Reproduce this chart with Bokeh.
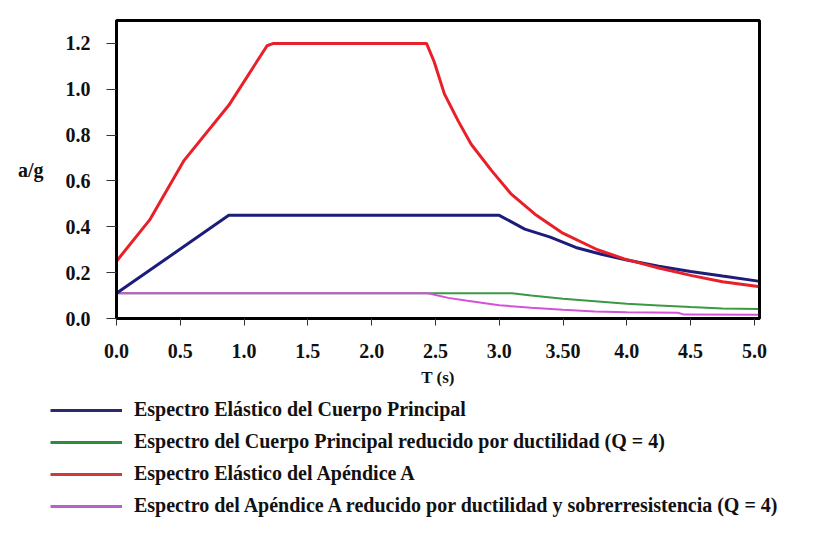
from bokeh.plotting import figure
from bokeh.layouts import column
from bokeh.models import FixedTicker, Legend, LegendItem, Range1d
from bokeh.embed import file_html
from bokeh.resources import INLINE

# ---- data ----
x_ticks = [0.0, 0.5, 1.0, 1.5, 2.0, 2.5, 3.0, 3.5, 4.0, 4.5, 5.0]
x_tick_labels = ["0.0", "0.5", "1.0", "1.5", "2.0", "2.5", "3.0", "3.50", "4.0", "4.5", "5.0"]
y_ticks = [0.0, 0.2, 0.4, 0.6, 0.8, 1.0, 1.2]
y_tick_labels = ["0.0", "0.2", "0.4", "0.6", "0.8", "1.0", "1.2"]

T_blue = [0.0, 0.88, 3.0, 3.2, 3.4, 3.6, 3.8, 4.0, 4.25, 4.5, 4.75, 5.03]
a_blue = [0.11, 0.45, 0.45, 0.39, 0.355, 0.31, 0.28, 0.255, 0.228, 0.205, 0.185, 0.163]

T_green = [0.0, 3.1, 3.25, 3.5, 3.75, 4.0, 4.25, 4.5, 4.75, 5.03]
a_green = [0.11, 0.11, 0.1, 0.086, 0.075, 0.064, 0.057, 0.05, 0.044, 0.041]

T_red = [0.0, 0.26, 0.53, 0.88, 1.18, 1.23, 2.43, 2.49, 2.57, 2.68, 2.78, 2.94,
         3.09, 3.28, 3.49, 3.77, 3.98, 4.25, 4.51, 4.75, 5.03]
a_red = [0.25, 0.43, 0.69, 0.93, 1.19, 1.2, 1.2, 1.12, 0.98, 0.86, 0.76, 0.645,
         0.545, 0.455, 0.375, 0.3, 0.26, 0.22, 0.187, 0.16, 0.14]

T_pink = [0.0, 2.44, 2.6, 2.75, 3.0, 3.25, 3.5, 3.75, 4.0, 4.4, 4.45, 5.03]
a_pink = [0.11, 0.11, 0.09, 0.077, 0.058, 0.047, 0.038, 0.031, 0.027, 0.025, 0.017, 0.016]

labels = [
    "Espectro Elástico del Cuerpo Principal",
    "Espectro del Cuerpo Principal reducido por ductilidad (Q = 4)",
    "Espectro Elástico del Apéndice A",
    "Espectro del Apéndice A reducido por ductilidad y sobrerresistencia (Q = 4)",
]

C_BLUE, C_GREEN, C_RED, C_PINK = "#1c1c7a", "#3a9a44", "#e8202a", "#d452d8"
L_BLUE, L_GREEN, L_RED, L_PINK = "#2a2a6e", "#2e8b3c", "#cc3a3a", "#b860cc"
FONT = "Liberation Serif"
TXT = "#111111"

W = 798
H_MAIN = 390
H_LEG = 127

p = figure(width=W, height=H_MAIN, output_backend="svg", toolbar_location=None,
           x_range=Range1d(0, 5.04), y_range=Range1d(0, 1.30),
           min_border_left=116, min_border_right=39, min_border_top=20,
           min_border_bottom=H_MAIN - 318)
p.background_fill_color = "white"
p.border_fill_color = "white"
p.outline_line_color = "black"
p.outline_line_width = 3
p.xgrid.visible = False
p.ygrid.visible = False

for ax in (p.xaxis[0], p.yaxis[0]):
    ax.axis_line_color = "black"
    ax.axis_line_width = 3
    ax.major_tick_line_color = "#333333"
    ax.major_tick_line_width = 1
    ax.major_tick_in = 0
    ax.minor_tick_line_color = None
    ax.major_label_text_font = FONT
    ax.major_label_text_font_style = "bold"
    ax.major_label_text_font_size = "20px"
    ax.major_label_text_color = TXT
    ax.axis_label_text_font = FONT
    ax.axis_label_text_font_style = "bold"
    ax.axis_label_text_color = TXT

p.xaxis.ticker = FixedTicker(ticks=x_ticks)
p.xaxis.major_label_overrides = {t: s for t, s in zip(x_ticks, x_tick_labels)}
p.xaxis.major_tick_out = 7
p.xaxis.major_label_standoff = 18
p.xaxis.axis_label = "T (s)"
p.xaxis.axis_label_text_font_size = "17px"
p.xaxis.axis_label_standoff = 7

p.yaxis.ticker = FixedTicker(ticks=y_ticks)
p.yaxis.major_label_overrides = {t: s for t, s in zip(y_ticks, y_tick_labels)}
p.yaxis.major_tick_out = 10
p.yaxis.major_label_standoff = 16
p.yaxis.axis_label = "a/g"
p.yaxis.axis_label_text_font_size = "20px"
p.yaxis.axis_label_standoff = 19
if "axis_label_orientation" in p.yaxis[0].properties():
    p.yaxis.axis_label_orientation = "horizontal"

p.line(T_green, a_green, line_color=C_GREEN, line_width=2)
p.line(T_pink, a_pink, line_color=C_PINK, line_width=2)
p.line(T_blue, a_blue, line_color=C_BLUE, line_width=3)
p.line(T_red, a_red, line_color=C_RED, line_width=3)

# ---- legend strip below the chart (its lines sit outside its visible range) ----
q = figure(width=W, height=H_LEG, output_backend="svg", toolbar_location=None,
           x_range=Range1d(-20, -10), y_range=Range1d(-20, -10),
           x_axis_type=None, y_axis_type=None,
           min_border_left=0, min_border_right=0, min_border_top=0, min_border_bottom=0)
q.outline_line_color = None
q.xgrid.visible = False
q.ygrid.visible = False
q.background_fill_color = "white"
q.border_fill_color = "white"
if "frame_align" in p.properties():
    p.frame_align = False
    q.frame_align = False

lr_blue = q.line(T_blue, a_blue, line_color=L_BLUE, line_width=3)
lr_green = q.line(T_green, a_green, line_color=L_GREEN, line_width=3)
lr_red = q.line(T_red, a_red, line_color=L_RED, line_width=3)
lr_pink = q.line(T_pink, a_pink, line_color=L_PINK, line_width=3)

legend = Legend(items=[
    LegendItem(label=labels[0], renderers=[lr_blue]),
    LegendItem(label=labels[1], renderers=[lr_green]),
    LegendItem(label=labels[2], renderers=[lr_red]),
    LegendItem(label=labels[3], renderers=[lr_pink]),
], location=(50, 0), orientation="vertical")
legend.glyph_width = 72
legend.glyph_height = 20
legend.label_height = 20
legend.spacing = 9
legend.label_standoff = 12
legend.padding = 0
legend.margin = 0
legend.border_line_color = None
legend.background_fill_alpha = 0
legend.label_text_font = FONT
legend.label_text_font_style = "bold"
legend.label_text_font_size = "20px"
legend.label_text_color = TXT
q.add_layout(legend)

layout = column(p, q, spacing=0)
open("out.html", "w").write(file_html(layout, INLINE))
